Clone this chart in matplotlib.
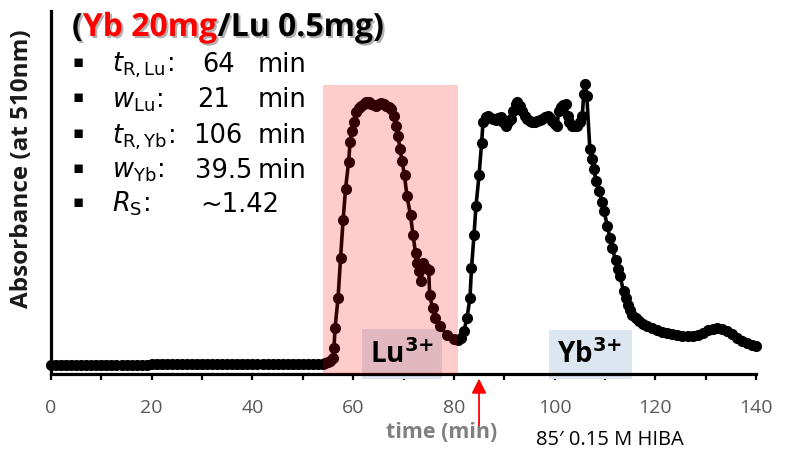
import matplotlib
matplotlib.use('Agg')
import matplotlib.pyplot as plt
import matplotlib.patheffects as pe
from matplotlib.patches import Rectangle

# dados
base_t = [0, 1, 2, 3, 4, 5, 6, 7, 8, 9, 10, 11, 12, 13, 14, 15, 16, 17, 18, 19,
          20, 21, 22, 23, 24, 25, 26, 27, 28, 29, 30, 31, 32, 33, 34, 35, 36, 37,
          38, 39, 40, 41, 42, 43, 44, 45, 46, 47, 48, 49, 50, 51, 52, 53, 54]
base_a = [0.025, 0.025, 0.025, 0.025, 0.025, 0.025, 0.025, 0.025, 0.025, 0.025,
          0.025, 0.025, 0.025, 0.025, 0.025, 0.025, 0.025, 0.025, 0.025, 0.025,
          0.028, 0.028, 0.028, 0.028, 0.028, 0.028, 0.028, 0.028, 0.028, 0.028,
          0.028, 0.028, 0.028, 0.028, 0.028, 0.028, 0.028, 0.028, 0.028, 0.028,
          0.028, 0.028, 0.028, 0.028, 0.028, 0.028, 0.028, 0.028, 0.028, 0.028,
          0.028, 0.028, 0.028, 0.028, 0.028]

# pico Lu
lu_t = [54.5, 55.0, 55.5, 56.0, 56.2, 56.4, 57.0, 57.5, 58.0, 58.5, 59.1, 59.4, 59.7,
        60.1, 60.6, 61.1, 61.6, 62.1, 62.6, 63.1, 63.6, 64.1, 64.6, 65.1, 65.6, 66.1,
        66.6, 67.1, 67.6, 68.1, 68.6, 68.9, 69.3, 69.7, 70.2, 70.7, 71.4, 71.9, 72.4,
        72.7, 73.1, 73.5, 73.9, 74.5, 75.0, 75.2, 75.8, 76.3, 77.3, 78.6, 80.0, 80.9,
        81.5]
lu_a = [0.030, 0.032, 0.036, 0.044, 0.071, 0.126, 0.209, 0.319, 0.423, 0.511, 0.585,
        0.640, 0.670, 0.695, 0.723, 0.733, 0.739, 0.745, 0.750, 0.749, 0.745, 0.741,
        0.739, 0.745, 0.747, 0.743, 0.739, 0.735, 0.731, 0.712, 0.684, 0.657, 0.621,
        0.588, 0.547, 0.489, 0.437, 0.382, 0.332, 0.305, 0.283, 0.255, 0.305, 0.291,
        0.286, 0.217, 0.181, 0.154, 0.132, 0.107, 0.096, 0.093, 0.100]

# pico Yb
yb_t = [82.0, 82.6, 83.2, 83.5, 84.0, 84.4, 85.0, 85.5, 85.8, 86.3, 86.8, 87.3, 87.8,
        88.3, 88.8, 89.3, 89.8, 90.3, 90.8, 91.3, 91.8, 92.3, 92.6, 93.1, 93.6, 94.1,
        94.6, 95.1, 95.6, 96.1, 96.6, 97.1, 97.6, 98.1, 98.6, 99.1, 99.5, 100.0, 100.5,
        100.8, 101.2, 101.7, 102.2, 102.6, 102.9, 103.5, 104.0, 104.5, 105.0, 105.5,
        105.8, 106.0, 106.4, 107.0, 107.5, 107.8, 108.2, 108.8, 109.5, 109.8, 110.5,
        111.0, 111.5, 112.1, 112.5, 113.0, 113.7, 114.1, 114.5, 115.0, 115.4, 116.1,
        116.8, 117.6, 118.4, 119.4, 120.4, 121.4, 122.4, 123.4, 124.4, 125.4, 126.4,
        127.4, 128.4, 129.4, 130.4, 131.4, 132.3, 133.3, 134.3, 135.3, 136.3, 137.3,
        138.3, 139.2, 140.0]
yb_a = [0.118, 0.154, 0.209, 0.291, 0.382, 0.464, 0.547, 0.635, 0.695, 0.708, 0.712,
        0.706, 0.703, 0.700, 0.706, 0.709, 0.695, 0.684, 0.695, 0.703, 0.725, 0.745,
        0.750, 0.738, 0.725, 0.712, 0.703, 0.698, 0.695, 0.695, 0.698, 0.700, 0.703,
        0.708, 0.712, 0.706, 0.698, 0.690, 0.684, 0.725, 0.736, 0.740, 0.745, 0.712,
        0.695, 0.684, 0.684, 0.684, 0.695, 0.712, 0.772, 0.799, 0.766, 0.621, 0.593,
        0.566, 0.533, 0.503, 0.475, 0.448, 0.409, 0.374, 0.346, 0.313, 0.290, 0.269,
        0.228, 0.208, 0.190, 0.175, 0.162, 0.153, 0.146, 0.138, 0.132, 0.126, 0.121,
        0.117, 0.113, 0.110, 0.107, 0.105, 0.104, 0.105, 0.107, 0.113, 0.121, 0.125,
        0.126, 0.123, 0.118, 0.110, 0.099, 0.092, 0.085, 0.080, 0.077]

tempo = base_t + lu_t + yb_t
absorb = base_a + lu_a + yb_a

ticks = [0, 20, 40, 60, 80, 100, 120, 140]
tick_labels = ['0', '20', '40', '60', '80', '100', '120', '140']

info_labels = [r'$t_{\mathrm{R,Lu}}$:', r'$w_{\mathrm{Lu}}$:', r'$t_{\mathrm{R,Yb}}$:',
               r'$w_{\mathrm{Yb}}$:', r'$R_{\mathrm{S}}$:']
info_values = ['64', '21', '106', '39.5', '~1.42']
info_units = ['min', 'min', 'min', 'min', '']

W, H = 789, 460
fig = plt.figure(figsize=(7.89, 4.6), dpi=100)
ax = fig.add_axes([51/W, 1-375/H, 705/W, 363/H])

ax.plot(tempo, absorb, '-o', color='black', lw=2.6, ms=7, clip_on=False, zorder=3)
ax.set_xlim(0, 140)
ax.set_ylim(0, 1)

# faixa do Lu e caixas
ax.add_patch(Rectangle((54.1, 0), 26.8, 0.797, facecolor='red', alpha=0.2,
                       edgecolor='none', zorder=4, clip_on=False))
ax.add_patch(Rectangle((61.8, -0.015), 15.9, 0.14, facecolor='#dce6f1',
                       edgecolor='none', zorder=2, clip_on=False))
ax.add_patch(Rectangle((98.8, -0.015), 16.5, 0.135, facecolor='#dce6f1',
                       edgecolor='none', zorder=2, clip_on=False))
ax.text(69.8, 0.055, 'Lu$^{\\mathbf{3{+}}}$', ha='center', va='center', fontsize=20,
        fontweight='bold', family='Open Sans', zorder=6)
ax.text(107.0, 0.055, 'Yb$^{\\mathbf{3{+}}}$', ha='center', va='center', fontsize=20,
        fontweight='bold', family='Open Sans', zorder=6)

for s in ['top', 'right']:
    ax.spines[s].set_visible(False)
ax.spines['left'].set_linewidth(2.3)
ax.spines['bottom'].set_linewidth(2.3)
ax.set_yticks([])
ax.set_xticks(ticks)
ax.set_xticks([10, 30, 50, 70, 90, 110, 130], minor=True)
ax.set_xticklabels(tick_labels, family='Open Sans', fontsize=14, color='#595959')
ax.tick_params(axis='x', which='both', direction='out', length=4.5, width=1.6, pad=13)

# seta de injecao
ax.annotate('', xy=(85, -0.005), xytext=(85, -0.15), xycoords='data',
            arrowprops=dict(arrowstyle='-|>', color='red', lw=1.3, mutation_scale=22),
            annotation_clip=False)

fig.text(442/W, 1-433/H, 'time (min)', ha='center', va='center', fontsize=15.5,
         fontweight='bold', color='#7f7f7f', family='Open Sans')
fig.text(610/W, 1-440/H, '85\u2032 0.15 M HIBA', ha='center', va='center', fontsize=14.5,
         color='black', family='Open Sans')
fig.text(22/W, 1-169/H, 'Absorbance (at 510nm)', rotation=90, ha='center', va='center',
         fontsize=17.5, fontweight='bold', color='#1a1a1a', family='Open Sans')

# titulo
sombra = [pe.withSimplePatchShadow(offset=(1.5, -1.5), shadow_rgbFace='gray', alpha=0.6)]
t1 = fig.text(72/W, 1-37/H, '(', fontsize=23, fontweight='bold', family='Open Sans',
              va='baseline', path_effects=sombra)
t2 = ax.annotate('Yb 20mg', xy=(1, 0), xycoords=t1, va='bottom', fontsize=23,
                 fontweight='bold', family='Open Sans', color='red', path_effects=sombra)
t3 = ax.annotate('/Lu 0.5mg)', xy=(1, 0), xycoords=t2, va='bottom', fontsize=23,
                 fontweight='bold', family='Open Sans', color='black', path_effects=sombra)

# lista de parametros
linhas_y = [72, 107, 143, 178, 212]
valor_x = [202, 197, 193, 195, 200]
for i in range(len(info_labels)):
    yy = 1 - linhas_y[i]/H
    fig.text(78/W, 1-(linhas_y[i]-10)/H, '\u25aa', ha='center', va='center', fontsize=12,
             family='DejaVu Sans')
    fig.text(112/W, yy, info_labels[i], fontsize=18.5, family='DejaVu Sans',
             math_fontfamily='dejavusans', va='baseline')
    fig.text(valor_x[i]/W, yy, info_values[i], fontsize=18.5, family='DejaVu Sans',
             va='baseline')
    if info_units[i]:
        fig.text(258/W, yy, info_units[i], fontsize=18.5, family='DejaVu Sans',
                 va='baseline')

plt.savefig('out.png', dpi=100)
